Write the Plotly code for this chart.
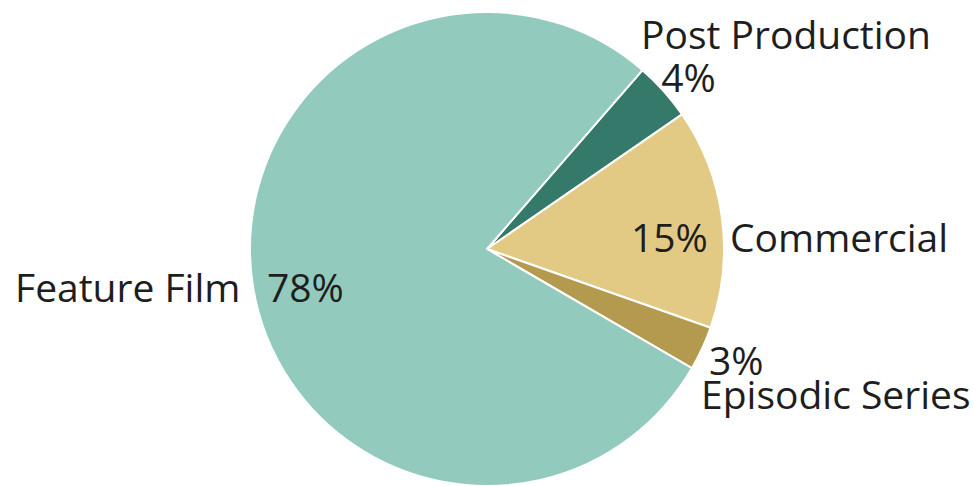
import plotly.graph_objects as go

# Data
labels = ["Post Production", "Commercial", "Episodic Series", "Feature Film"]
values = [4, 15, 3, 78]
colors = ["#35796A", "#E3CA84", "#B49A4E", "#92CABD"]

W, H = 974, 486
cx, cy, r = 487, 249, 237
FS = 39  # label font size
FAM = "Open Sans, sans-serif"
INK = "#1e1e1e"

fig = go.Figure(go.Pie(
    labels=labels,
    values=values,
    sort=False,
    direction="clockwise",
    rotation=41,
    marker=dict(colors=colors, line=dict(color="white", width=2)),
    textinfo="none",
    hoverinfo="label+percent",
    showlegend=False,
    domain=dict(x=[(cx - r) / W, (cx + r) / W], y=[(H - cy - r) / H, (H - cy + r) / H]),
))

pct = {lab: f"{v}%" for lab, v in zip(labels, values)}


def big(s, size=FS):
    return f'<span style="font-size:{size}px">{s}</span>'


NB = "\u00a0"

# (text, x_px, y_px, xanchor, yanchor, base font size)
placements = [
    # two-line labels: the base size sets the line spacing
    (big("Post Production") + "<br>" + big(NB + NB + pct["Post Production"]), 639, 4.5, "left", "top", 33),
    (big(NB, 31) + big(pct["Episodic Series"]) + "<br>" + big("Episodic Series"), 699, 330.5, "left", "top", 26.2),
    (pct["Commercial"], 629, 237, "left", "middle", FS),
    ("Commercial", 728, 237, "left", "middle", FS),
    ("Feature Film", 242, 286.5, "right", "middle", FS),
    (pct["Feature Film"], 265, 286.5, "left", "middle", FS),
]

annotations = []
for text, x, y, xa, ya, fs in placements:
    annotations.append(dict(
        text=text, x=x / W, y=1 - y / H, xref="paper", yref="paper",
        xanchor=xa, yanchor=ya, align="left", showarrow=False,
        font=dict(family=FAM, size=fs, color=INK),
    ))

fig.update_layout(
    width=W, height=H,
    margin=dict(l=0, r=0, t=0, b=0),
    paper_bgcolor="white",
    plot_bgcolor="white",
    annotations=annotations,
)

fig.write_html("out.html")
